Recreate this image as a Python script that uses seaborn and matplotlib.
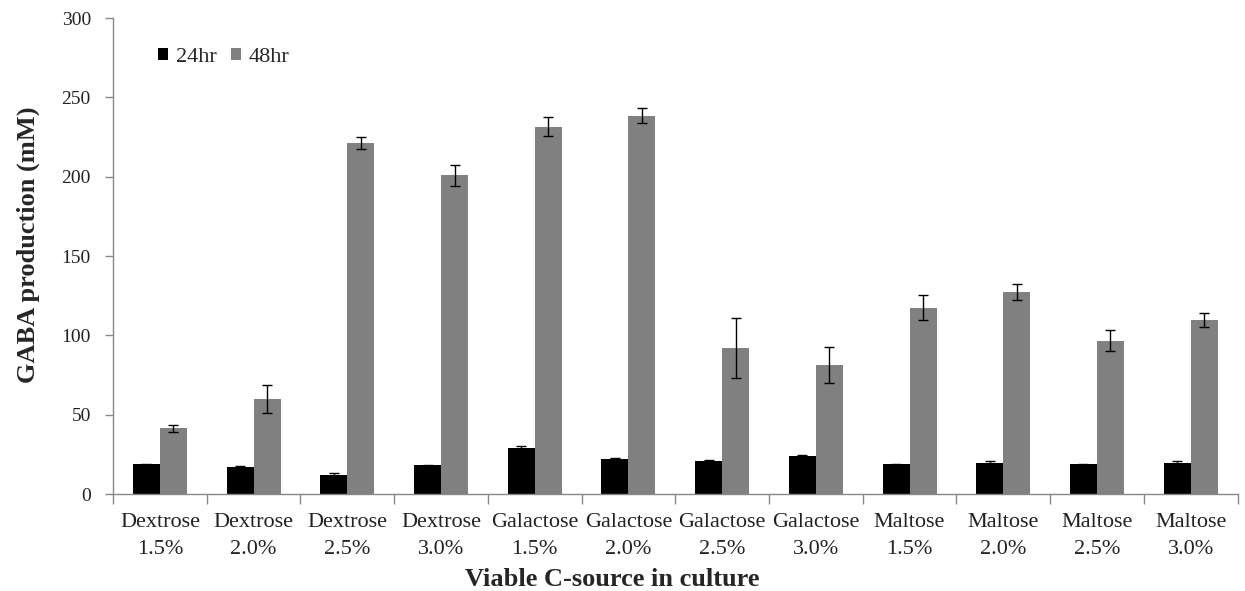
import matplotlib
matplotlib.use("Agg")
import matplotlib.pyplot as plt
import numpy as np
import pandas as pd
import seaborn as sns

# Culture conditions (carbon source and concentration)
categories = [
    "Dextrose\n1.5%", "Dextrose\n2.0%", "Dextrose\n2.5%", "Dextrose\n3.0%",
    "Galactose\n1.5%", "Galactose\n2.0%", "Galactose\n2.5%", "Galactose\n3.0%",
    "Maltose\n1.5%", "Maltose\n2.0%", "Maltose\n2.5%", "Maltose\n3.0%",
]
series_names = ["24hr", "48hr"]

# Mean GABA production (mM)
gaba_24h = [18.7, 17.2, 12.0, 18.0, 28.8, 22.3, 20.8, 23.7, 18.7, 19.3, 18.7, 19.3]
gaba_48h = [41.4, 59.9, 221.0, 200.8, 231.5, 238.4, 92.2, 81.3, 117.4, 127.1, 96.6, 109.6]

# Standard deviations
sd_24h = [0.5, 0.5, 1.0, 0.5, 1.7, 0.5, 0.5, 1.2, 0.5, 1.2, 0.5, 0.5]
sd_48h = [2.0, 8.8, 3.8, 6.5, 6.0, 4.8, 19.0, 11.5, 8.0, 5.0, 6.5, 4.3]

yticks = [0, 50, 100, 150, 200, 250, 300]

df = pd.DataFrame({
    "source": categories * 2,
    "time": [series_names[0]] * len(categories) + [series_names[1]] * len(categories),
    "gaba": gaba_24h + gaba_48h,
    "sd": sd_24h + sd_48h,
})

sns.set_style("white")
plt.rcParams["font.family"] = ["Liberation Serif", "DejaVu Serif"]

fig = plt.figure(figsize=(12.45, 5.91), dpi=100)
ax = fig.add_axes([0.0908, 0.1641, 0.9032, 0.8054])

palette = {"24hr": "#000000", "48hr": "#808080"}
sns.barplot(data=df, x="source", y="gaba", hue="time", palette=palette,
            order=categories, hue_order=series_names, errorbar=None,
            width=0.576, saturation=1, linewidth=0, ax=ax)

# Error bars placed at the centre/top of each drawn bar
bars = [p for p in ax.patches if p.get_height() > 0]
bars = sorted(bars, key=lambda p: p.get_x())
for p in bars:
    xc = p.get_x() + p.get_width() / 2
    h = p.get_height()
    row = df[np.isclose(df["gaba"], h)].iloc[0]
    ax.errorbar(xc, h, yerr=row["sd"], fmt="none", ecolor="black",
                elinewidth=1.0, capsize=3.3, capthick=1.0)

ax.set_xlim(-0.5, len(categories) - 0.5)
ax.set_ylim(0, 300)
ax.set_yticks(yticks)
ax.set_yticklabels([str(t) for t in yticks])

# Category boundary tick marks on the x axis
ax.set_xticks(np.arange(len(categories)))
ax.set_xticklabels(categories, fontsize=16, color="#222222", linespacing=1.55)
ax.set_xticks(np.arange(-0.5, len(categories), 1.0), minor=True)
ax.tick_params(axis="x", which="major", length=0, pad=14)
ax.tick_params(axis="x", which="minor", length=7, width=1, color="#888888",
               direction="out", bottom=True)
ax.tick_params(axis="y", length=6, width=1, color="#888888", direction="out",
               left=True, labelsize=14, labelcolor="#222222", pad=10)

for side in ["top", "right"]:
    ax.spines[side].set_visible(False)
for side in ["left", "bottom"]:
    ax.spines[side].set_color("#888888")
    ax.spines[side].set_linewidth(1)

ax.set_xlabel("Viable C-source in culture", fontsize=19, fontweight="bold")
ax.xaxis.set_label_coords(0.444, -0.18, transform=ax.transAxes)
ax.xaxis.label.set_verticalalignment("center")
ax.set_ylabel("GABA production (mM)", fontsize=19, fontweight="bold")
ax.yaxis.set_label_coords(-0.075, 0.523, transform=ax.transAxes)
ax.yaxis.label.set_verticalalignment("center")

ax.legend(loc="center left", bbox_to_anchor=(0.040, 0.918), ncol=2,
          frameon=False, fontsize=16, handlelength=0.45, handleheight=0.45,
          handletextpad=0.36, columnspacing=0.64, borderaxespad=0,
          borderpad=0)

fig.savefig("out.png", dpi=100, facecolor="white")
